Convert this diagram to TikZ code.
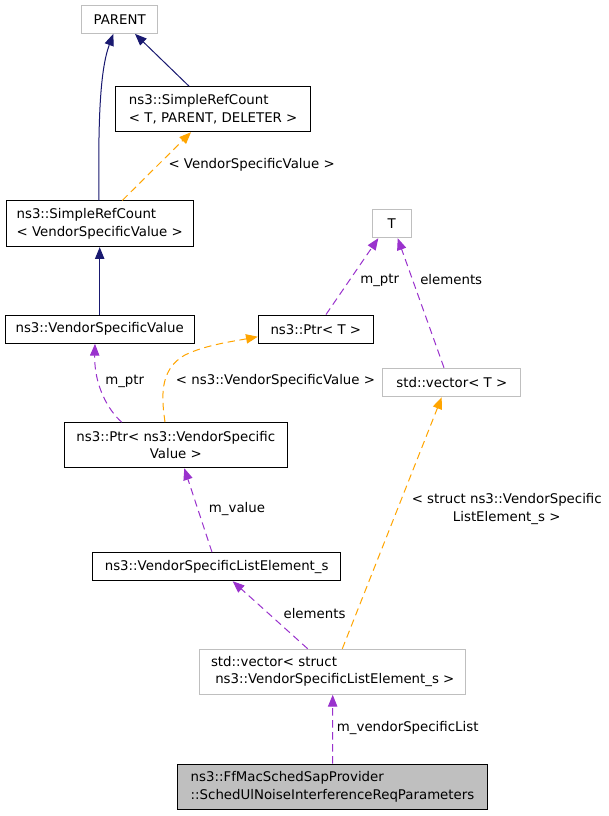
\documentclass[tikz,border=0pt]{standalone}
\usepackage{fontspec}
\setmainfont{DejaVu Sans}
\usetikzlibrary{arrows.meta,calc}
\definecolor{navyc}{HTML}{191970}
\definecolor{purplec}{HTML}{9A32CD}
\definecolor{orangec}{HTML}{FFA500}
\definecolor{grayb}{HTML}{BFBFBF}
\tikzset{
  box/.style 2 args={draw=black,line width=0.8pt,fill=white,inner sep=0pt,
    minimum width=#1*0.75pt,minimum height=#2*0.75pt,align=left,
    font=\fontsize{10pt}{13pt}\selectfont},
  gbox/.style 2 args={box={#1}{#2},draw=grayb},
  mainbox/.style 2 args={box={#1}{#2},fill=grayb},
  tipc/.style={-{Triangle[length=8.8pt,width=7pt]}},
  inh/.style={tipc,draw=navyc,line width=0.75pt},
  usage/.style={tipc,draw=purplec,line width=0.75pt,dash pattern=on 5.5pt off 3.5pt},
  tmpl/.style={tipc,draw=orangec,line width=0.75pt,dash pattern=on 5.5pt off 3.5pt},
  lbl/.style={inner sep=0pt,font=\fontsize{10pt}{13.5pt}\selectfont},
}
\begin{document}
\begin{tikzpicture}[x=0.75pt,y=-0.75pt]
\useasboundingbox[fill=white] (0,0) rectangle (609,816);
% nodes
\node[gbox={76}{28.3}] (P) at (119.7,19.2) {PARENT};
\node[box={195}{45}] (SRCT) at (213.2,109.2) {ns3::SimpleRefCount\\< T, PARENT, DELETER >};
\node[box={187.3}{45.7}] (SRCV) at (99.7,223.8) {ns3::SimpleRefCount\\< VendorSpecificValue >};
\node[gbox={39}{28.4}] (T) at (391.8,223.5) {T};
\node[box={189.3}{28.3}] (VSV) at (99.7,329.2) {ns3::VendorSpecificValue};
\node[box={115}{28.3}] (PtrT) at (315.8,329.2) {ns3::Ptr< T >};
\node[gbox={137.7}{28.4}] (VecT) at (451.8,382.5) {std::vector< T >};
\node[box={223}{45},align=center] (PtrV) at (175.8,445.2) {ns3::Ptr< ns3::VendorSpecific\\Value >};
\node[box={248}{28}] (LE) at (216.7,566.7) {ns3::VendorSpecificListElement\_s};
\node[gbox={266}{45}] (VecS) at (332.7,671.8) {std::vector< struct\\\ ns3::VendorSpecificListElement\_s >};
\node[mainbox={309.6}{45.3}] (Main) at (332.5,786.7) {ns3::FfMacSchedSapProvider\\::SchedUlNoiseInterferenceReqParameters};
% edges
\draw[inh] ($(SRCV.north)+(-0.7,0)$) .. controls (98,120) and (100,70) .. ($(P.south)+(-6.4,0)$);
\draw[inh] ($(SRCT.north)+(-24.2,0)$) -- ($(P.south)+(15.3,0)$);
\draw[tmpl] ($(SRCV.north)+(22.6,0)$) -- ($(SRCT.south)+(-22.2,0)$);
\node[lbl,anchor=west] (l1) at (168.3,165) {< VendorSpecificValue >};
\draw[inh] (VSV.north) -- (SRCV.south);
\draw[usage] ($(PtrT.north)+(10.2,0)$) -- ($(T.south)+(-13.5,0)$);
\node[lbl] (l2) at (379.7,280) {m\_ptr};
\draw[usage] ($(VecT.north)+(-7.8,0)$) -- ($(T.south)+(5.9,0)$);
\node[lbl,anchor=west] (l3) at (420,280) {elements};
\draw[usage] ($(PtrV.north)+(-54.1,0)$) .. controls (108,410) and (94,385) .. ($(VSV.south)+(-4.7,0)$);
\node[lbl,anchor=west] (l4) at (105,381) {m\_ptr};
\draw[tmpl] ($(PtrV.north)+(-10.8,0)$) .. controls (162,400) and (158,370) .. (185,355) .. controls (205,345) and (235,341) .. ($(PtrT.west)+(0,7.5)$);
\node[lbl,anchor=west] (l5) at (175.7,381) {< ns3::VendorSpecificValue >};
\draw[usage] ($(LE.north)+(-4.7,0)$) -- ($(PtrV.south)+(8.5,0)$);
\node[lbl,anchor=west] (l6) at (208.7,509.3) {m\_value};
\draw[usage] ($(VecS.north)+(-25,0)$) -- ($(LE.south)+(16,0)$);
\node[lbl,anchor=west] (l7) at (283.3,613.3) {elements};
\draw[tmpl] ($(VecS.north)+(9.6,0)$) -- ($(VecT.south)+(-10.1,0)$);
\node[lbl,align=center] (l8) at (506.7,509.2) {< struct ns3::VendorSpecific\\ListElement\_s >};
\draw[usage] (Main.north) -- (VecS.south);
\node[lbl,anchor=west] (l9) at (336.7,728.3) {m\_vendorSpecificList};
\end{tikzpicture}
\end{document}
